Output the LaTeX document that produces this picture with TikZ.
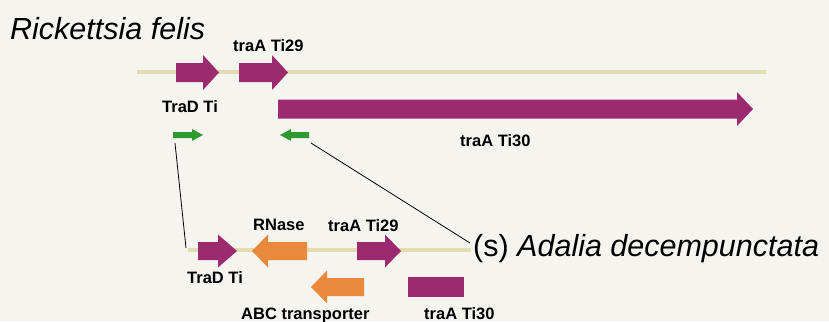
\documentclass[tikz,border=0pt]{standalone}
\usepackage{fontspec}
\setmainfont{Liberation Sans}
\definecolor{gpurple}{HTML}{9C2A6E}
\definecolor{gorange}{HTML}{E8893C}
\definecolor{ggreen}{HTML}{2E9A30}
\definecolor{gline}{HTML}{E4DCB0}
\definecolor{bgcol}{HTML}{F6F4EF}
% right-pointing gene: tail x, head start x, tip x, centre y, body height, head height
\newcommand\geneRight[7]{\fill[#7] ({#1},{#4-#5/2}) -- ({#2},{#4-#5/2}) -- ({#2},{#4-#6/2}) -- ({#3},{#4}) -- ({#2},{#4+#6/2}) -- ({#2},{#4+#5/2}) -- ({#1},{#4+#5/2}) -- cycle;}
% left-pointing gene: tip x, head end x, tail x, centre y, body height, head height
\newcommand\geneLeft[7]{\fill[#7] ({#3},{#4-#5/2}) -- ({#2},{#4-#5/2}) -- ({#2},{#4-#6/2}) -- ({#1},{#4}) -- ({#2},{#4+#6/2}) -- ({#2},{#4+#5/2}) -- ({#3},{#4+#5/2}) -- cycle;}
\begin{document}
\begin{tikzpicture}[x=1pt,y=-1pt,
  glabel/.style={font=\fontsize{16.5}{18}\selectfont\bfseries, inner sep=0pt, anchor=base west},
  species/.style={font=\fontsize{30.5}{34}\selectfont, inner sep=0pt, anchor=base west},
  backbone/.style={gline, line width=4pt},
  connector/.style={black, line width=0.8pt}]
\useasboundingbox (0,0) rectangle (829,321);
\fill[bgcol] (0,0) rectangle (829,321);

% top genome
\draw[backbone] (137,72) -- (766,72);
\geneRight{176}{203}{219}{72.5}{19}{35}{gpurple}
\geneRight{239}{272}{288}{72.5}{19}{35}{gpurple}
\geneRight{278}{737}{753}{109}{19}{34}{gpurple}
\geneRight{173}{192}{203}{135}{6}{12}{ggreen}
\geneLeft{280}{291}{309}{135}{6}{12}{ggreen}

\node[species] (rf) at (10,40) {\itshape Rickettsia felis};
\node[glabel] (t29a) at (233,52) {traA Ti29};
\node[glabel] (trda) at (162,112) {TraD Ti};
\node[glabel] (t30a) at (460,146) {traA Ti30};

% bottom genome
\draw[backbone] (188,250) -- (471,250);
\geneRight{198}{218}{237}{251}{18}{33}{gpurple}
\geneLeft{252}{268}{307}{251}{18}{33}{gorange}
\geneRight{357}{385}{401}{251}{18}{33}{gpurple}
\geneLeft{311}{327}{364}{287}{18}{33}{gorange}
\fill[gpurple] (408,277) rectangle (464,297);

\node[glabel] (rnase) at (253,230) {RNase};
\node[glabel] (t29b) at (328,231) {traA Ti29};
\node[glabel] (trdb) at (187,283) {TraD Ti};
\node[glabel] (abc) at (241,319) {ABC transporter};
\node[glabel] (t30b) at (424,319) {traA Ti30};
\node[species] (ad) at (473,256) {(s) \itshape Adalia decempunctata};

% connectors
\coordinate (g1) at (175,143);
\coordinate (g2) at (311,143);
\coordinate (b1) at (186,248);
\coordinate (b2) at (470,243);
\draw[connector] (g1) -- (b1);
\draw[connector] (g2) -- (b2);
\end{tikzpicture}
\end{document}
